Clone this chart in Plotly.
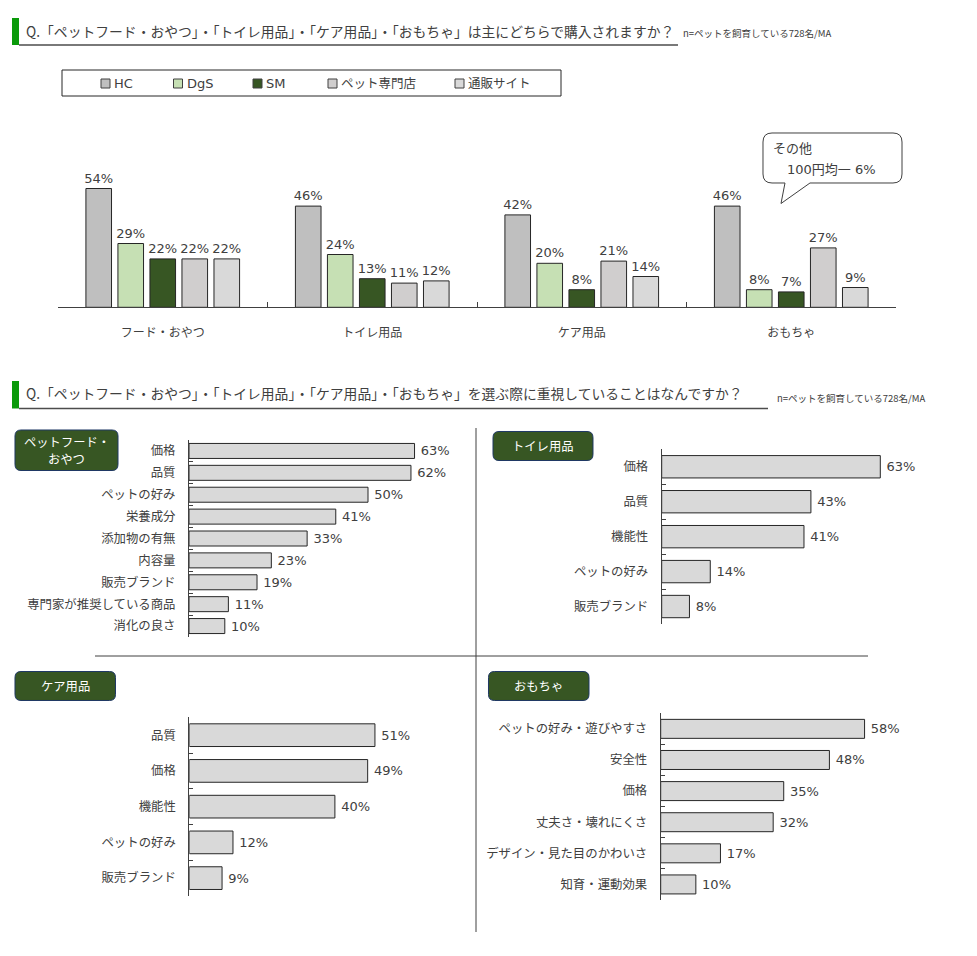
import plotly.graph_objects as go

W, H = 977, 956
OFF = 8  # page body margin in the browser

# ---------------- data ----------------
top_categories = ["フード・おやつ", "トイレ用品", "ケア用品", "おもちゃ"]
channels = ["HC", "DgS", "SM", "ペット専門店", "通販サイト"]
hc_vals = [54, 46, 42, 46]
dgs_vals = [29, 24, 20, 8]
sm_vals = [22, 13, 8, 7]
petshop_vals = [22, 11, 21, 27]
online_vals = [22, 12, 14, 9]
channel_colors = ["#bfbfbf", "#c6e0b4", "#375623", "#d0cece", "#d9d9d9"]

food_labels = ["価格", "品質", "ペットの好み", "栄養成分", "添加物の有無", "内容量",
               "販売ブランド", "専門家が推奨している商品", "消化の良さ"]
food_vals = [63, 62, 50, 41, 33, 23, 19, 11, 10]

toilet_labels = ["価格", "品質", "機能性", "ペットの好み", "販売ブランド"]
toilet_vals = [63, 43, 41, 14, 8]

care_labels = ["品質", "価格", "機能性", "ペットの好み", "販売ブランド"]
care_vals = [51, 49, 40, 12, 9]

toy_labels = ["ペットの好み・遊びやすさ", "安全性", "価格", "丈夫さ・壊れにくさ",
              "デザイン・見た目のかわいさ", "知育・運動効果"]
toy_vals = [58, 48, 35, 32, 17, 10]

title1 = "Q.「ペットフード・おやつ」・「トイレ用品」・「ケア用品」・「おもちゃ」は主にどちらで購入されますか？"
title2 = "Q.「ペットフード・おやつ」・「トイレ用品」・「ケア用品」・「おもちゃ」を選ぶ際に重視していることはなんですか？"
note_text = "n=ペットを飼育している728名/MA"
callout_title = "その他"
callout_body = "100円均一 6%"
tag_texts = [["ペットフード・", "おやつ"], ["トイレ用品"], ["ケア用品"], ["おもちゃ"]]

# ---------------- helpers ----------------
def px(x):
    return (x - OFF) / W

def py(y):
    return 1 - (y - OFF) / H

JP = "Noto Sans CJK JP"
NUM = "DejaVu Sans, Noto Sans CJK JP"
TXT = "#404040"
EDGE = "#262626"


def rrect_path(x0, y0, x1, y1, r, tail=None):
    def P(x, y):
        return f"{px(x):.5f},{py(y):.5f}"
    d = f"M {P(x0 + r, y0)} L {P(x1 - r, y0)} Q {P(x1, y0)} {P(x1, y0 + r)} "
    d += f"L {P(x1, y1 - r)} Q {P(x1, y1)} {P(x1 - r, y1)} "
    if tail:
        for (tx, ty) in tail:
            d += f"L {P(tx, ty)} "
    d += f"L {P(x0 + r, y1)} Q {P(x0, y1)} {P(x0, y1 - r)} "
    d += f"L {P(x0, y0 + r)} Q {P(x0, y0)} {P(x0 + r, y0)} Z"
    return d


fig = go.Figure()

# ---------------- top grouped bar chart ----------------
series = [hc_vals, dgs_vals, sm_vals, petshop_vals, online_vals]
for name, vals, col in zip(channels, series, channel_colors):
    fig.add_trace(go.Bar(
        x=top_categories, y=vals, name=name,
        marker=dict(color=col, line=dict(color=EDGE, width=1)),
        texttemplate="%{y}%", textposition="outside", cliponaxis=False,
        constraintext="none",
        textfont=dict(family=NUM, size=13, color=TXT),
        xaxis="x", yaxis="y", showlegend=False,
    ))

# ---------------- horizontal panels ----------------
panels = [
    (food_labels, food_vals, "x2", "y2", 0.685),
    (toilet_labels, toilet_vals, "x3", "y3", 0.64),
    (care_labels, care_vals, "x4", "y4", 0.635),
    (toy_labels, toy_vals, "x5", "y5", 0.61),
]
for labels, vals, xa, ya, wd in panels:
    fig.add_trace(go.Bar(
        y=labels, x=vals, orientation="h", width=wd,
        marker=dict(color="#d9d9d9", line=dict(color=EDGE, width=1)),
        texttemplate="\u2005%{x}%", textposition="outside", cliponaxis=False,
        constraintext="none",
        textfont=dict(family=NUM, size=13, color=TXT),
        xaxis=xa, yaxis=ya, showlegend=False,
    ))

cat_axis_common = dict(
    type="category", showline=True, linecolor=TXT, linewidth=1,
    ticks="inside", tickson="boundaries", tickcolor=TXT,
    showgrid=False, zeroline=False, fixedrange=True,
)

layout = dict(
    width=W, height=H,
    margin=dict(l=0, r=0, t=0, b=0),
    paper_bgcolor="white", plot_bgcolor="rgba(0,0,0,0)",
    barmode="group", bargap=0.236, bargroupgap=0.2,
    font=dict(family=JP, color=TXT),
    xaxis=dict(domain=[px(58), px(896)], anchor="y",
               tickfont=dict(family=JP, size=12, color=TXT),
               ticklabelstandoff=14, ticklen=5, **cat_axis_common),
    yaxis=dict(domain=[py(307.3), py(175.3)], range=[0, 60], visible=False, anchor="x"),
    showlegend=False,
)

# panel axes: (axis id, x start px, px per %, y top px, y bottom px)
panel_geom = [
    ("2", 189.0, 3.58, 440.0, 637.0),
    ("3", 661.7, 3.47, 449.3, 624.0),
    ("4", 189.3, 3.64, 717.3, 896.0),
    ("5", 660.7, 3.515, 713.3, 900.0),
]
for idx, x0, ppp, ytop, ybot in panel_geom:
    xr = 70
    layout[f"xaxis{idx}"] = dict(domain=[px(x0), px(x0 + ppp * xr)], range=[0, xr],
                                 visible=False, anchor=f"y{idx}", fixedrange=True)
    layout[f"yaxis{idx}"] = dict(domain=[py(ybot), py(ytop)], anchor=f"x{idx}",
                                 autorange="reversed", ticklen=4,
                                 tickfont=dict(family=JP, size=12.4, color=TXT),
                                 ticklabelstandoff=10, **cat_axis_common)

fig.update_layout(**layout)

# ---------------- shapes ----------------
shapes = []
GREEN = "#0a9a0a"
# title markers + underlines
for (yt, yb, xend) in [(18, 45, 678), (381, 408.5, 768)]:
    shapes.append(dict(type="rect", xref="paper", yref="paper",
                       x0=px(12), x1=px(19), y0=py(yb), y1=py(yt),
                       fillcolor=GREEN, line=dict(width=0)))
    shapes.append(dict(type="line", xref="paper", yref="paper",
                       x0=px(19), x1=px(xend), y0=py(yb), y1=py(yb),
                       line=dict(color="#4d4d4d", width=1.5)))
# legend box
shapes.append(dict(type="rect", xref="paper", yref="paper",
                   x0=px(62), x1=px(561), y0=py(96), y1=py(70),
                   line=dict(color="#262626", width=1), fillcolor="rgba(0,0,0,0)"))
legend_x = [101, 173.5, 253, 328, 455]
for lx, col in zip(legend_x, channel_colors):
    shapes.append(dict(type="rect", xref="paper", yref="paper",
                       x0=px(lx), x1=px(lx + 9), y0=py(88), y1=py(79),
                       fillcolor=col, line=dict(color="#404040", width=1)))
# callout
shapes.append(dict(type="path", xref="paper", yref="paper",
                   path=rrect_path(763, 133, 902, 183, 9, tail=[(810, 183), (781, 203.5), (785, 183)]),
                   line=dict(color="#404040", width=1), fillcolor="white"))
# dividers
shapes.append(dict(type="line", xref="paper", yref="paper",
                   x0=px(476), x1=px(476), y0=py(932), y1=py(428),
                   line=dict(color="#404040", width=1)))
shapes.append(dict(type="line", xref="paper", yref="paper",
                   x0=px(95), x1=px(868), y0=py(656), y1=py(656),
                   line=dict(color="#404040", width=1)))
# tag boxes
tag_boxes = [
    (15, 430, 118, 470.5),
    (493, 431.5, 593, 460.5),
    (15, 671.5, 115.5, 700.5),
    (488.5, 671.5, 589, 700.5),
]
for x0, y0, x1, y1 in tag_boxes:
    shapes.append(dict(type="path", xref="paper", yref="paper",
                       path=rrect_path(x0, y0, x1, y1, 6),
                       line=dict(color="#1f3864", width=1), fillcolor="#375623"))
fig.update_layout(shapes=shapes)

# ---------------- annotations ----------------
ann = []
def add_text(text, x, y, size, family=JP, color=TXT, xanchor="left"):
    ann.append(dict(text=text, x=px(x), y=py(y), xref="paper", yref="paper",
                    xanchor=xanchor, yanchor="middle", showarrow=False,
                    font=dict(family=family, size=size, color=color)))

add_text(title1, 24, 31, 13.8)
add_text(note_text, 681, 33, 9.5)
add_text(title2, 24, 393, 13.8)
add_text(note_text, 775, 398, 9.5)
add_text(callout_title, 771, 149, 13, family=NUM)
add_text(callout_body, 785, 170, 13, family=NUM)
for lx, name in zip(legend_x, channels):
    add_text(name, lx + 11, 83.5, 13 if name.isascii() else 12.5, family=NUM)
for lines, (x0, y0, x1, y1) in zip(tag_texts, tag_boxes):
    cy = (y0 + y1) / 2
    n = len(lines)
    for i, line in enumerate(lines):
        add_text(line, (x0 + x1) / 2, cy + (i - (n - 1) / 2) * 17, 12.3,
                 color="white", xanchor="center")
fig.update_layout(annotations=ann)

fig.write_html("out.html")
